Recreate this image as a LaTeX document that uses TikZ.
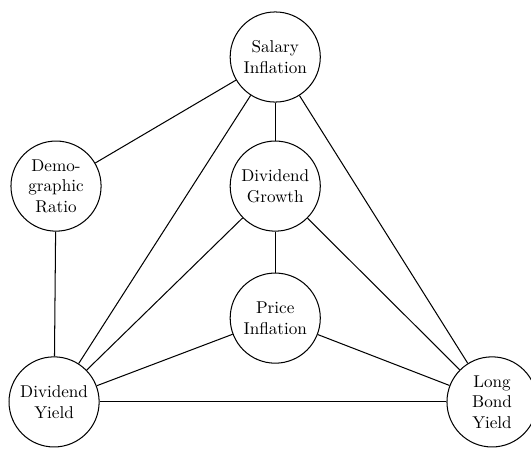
\documentclass[tikz,border=0pt]{standalone}
\usepackage{tikz}
\usetikzlibrary{positioning}

\begin{document}
\begin{tikzpicture}[
  var/.style={draw, circle, semithick, minimum size=1.85cm, inner sep=1pt, align=center}
]
\useasboundingbox (0, 0) rectangle (10.9, -9.2);
% Variables
\node[var] (sal)   at (5.65, -1.17) {Salary\\Inflation};
\node[var] (demo)  at (1.15, -3.82) {Demo-\\graphic\\Ratio};
\node[var] (divgr) at (5.65, -3.82) {Dividend\\Growth};
\node[var] (price) at (5.65, -6.53) {Price\\Inflation};
\node[var] (divy)  at (1.11, -8.25) {Dividend\\Yield};
\node[var] (bond)  at (10.10, -8.25) {Long\\Bond\\Yield};

% Links
\foreach \a/\b in {sal/demo, sal/divgr, sal/divy, sal/bond, demo/divy,
                   divgr/price, divgr/divy, divgr/bond,
                   price/divy, price/bond, divy/bond} {
  \draw[semithick] (\a) -- (\b);
}
\end{tikzpicture}
\end{document}
